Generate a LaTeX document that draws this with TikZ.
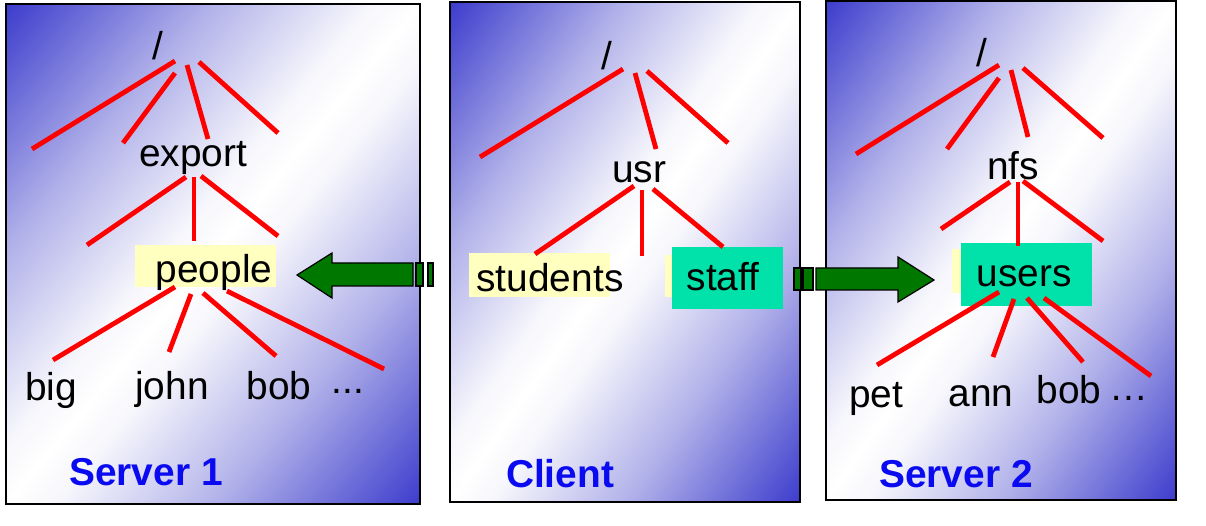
\documentclass[tikz,border=0pt]{standalone}
\usepackage{fontspec}
\setmainfont{Liberation Sans}
\definecolor{panelblue}{RGB}{60,60,205}
\definecolor{panelmid}{RGB}{178,178,234}
\definecolor{panellight}{RGB}{246,246,252}
\definecolor{hlyellow}{RGB}{255,255,192}
\definecolor{hlteal}{RGB}{0,226,170}
\definecolor{arrowgreen}{RGB}{0,120,0}
\definecolor{labelblue}{RGB}{10,10,240}
% blue on both long sides of the band, white along its middle line
\pgfdeclareverticalshading{panelshade}{100bp}{color(0bp)=(panelblue); color(25bp)=(panelblue); color(37.5bp)=(panelmid); color(47bp)=(panellight); color(50bp)=(white); color(53bp)=(panellight); color(62.5bp)=(panelmid); color(75bp)=(panelblue); color(100bp)=(panelblue)}
\tikzset{
  frame/.style={draw=black, line width=2bp},
  branch/.style={draw=red, line width=4.8bp},
  lbl/.style={anchor=base, inner sep=0pt, font=\fontsize{39}{47}\selectfont},
  title/.style={anchor=base, inner sep=0pt, font=\fontsize{39}{47}\selectfont\bfseries, text=labelblue},
  yellowbox/.style={fill=hlyellow},
  tealbox/.style={fill=hlteal},
  mountarrow/.style={fill=arrowgreen, draw=black, line width=1.2bp, line join=miter}
}
% #1,#2 = corners, #3 = centre, #4 = angle of the white diagonal,
% #5 = half length along it, #6 = distance from it to a corner
\newcommand{\panelbox}[6]{%
  \begin{scope}
    \clip #1 rectangle #2;
    \shade[shading=panelshade, transform canvas={shift={#3}, rotate=#4}]
      (-#5,-#6) rectangle (#5,#6);
  \end{scope}
  \draw[frame] #1 rectangle #2;
}
\begin{document}
\begin{tikzpicture}[x=1bp,y=-1bp]
\useasboundingbox[fill=white] (0,0) rectangle (1206,526);

% ---------- panels ----------
\panelbox{(6,4)}{(420,504)}{(213,254)}{50.37}{340}{318.9}
\panelbox{(450,2)}{(800,502)}{(625,252)}{55.0}{320}{286.7}
\panelbox{(826,1)}{(1176,500)}{(1001,250.5)}{54.96}{320}{286.6}

% ---------- highlight boxes ----------
\fill[yellowbox] (135,245) rectangle (276,287);
\fill[yellowbox] (469,253) rectangle (610,297);
\fill[yellowbox] (665,255) rectangle (680,297);
\fill[tealbox]   (672,247) rectangle (783,309);
\fill[yellowbox] (952,249) rectangle (965,293);
\fill[tealbox]   (961,243) rectangle (1092,306);

% ---------- Server 1 tree ----------
\draw[branch] (175,61) -- (32,149);
\draw[branch] (175,73) -- (123,143);
\draw[branch] (187,65) -- (208,139);
\draw[branch] (199,62) -- (278,133);
\draw[branch] (186,177) -- (87,245);
\draw[branch] (194,177) -- (194,241);
\draw[branch] (201,176) -- (278,236);
\draw[branch] (175,287) -- (53,360);
\draw[branch] (191,294) -- (169,352);
\draw[branch] (203,293) -- (276,356);
\draw[branch] (227,291) -- (384,369);

\node[lbl] (rootA) at (158,60) {/};
\node[lbl] (export) at (193,167) {export};
\node[lbl] (people) at (214,283) {people};
\node[lbl] (big) at (51,400) {big};
\node[lbl] (john) at (172,399) {john};
\node[lbl] (bobA) at (279,399) {bob};
\node[lbl] (moreA) at (348,393) {...};
\node[title] (serverA) at (146,485) {Server 1};

% ---------- Client tree ----------
\draw[branch] (623,69) -- (480,157);
\draw[branch] (635,73) -- (656,149);
\draw[branch] (647,71) -- (728,143);
\draw[branch] (634,186) -- (535,254);
\draw[branch] (642,190) -- (642,256);
\draw[branch] (653,189) -- (723,247);

\node[lbl] (rootC) at (607,70) {/};
\node[lbl] (usr) at (639,183) {usr};
\node[lbl] (students) at (550,292) {students};
\node[lbl] (staff) at (723,291) {staff};
\node[title] (client) at (560,487) {Client};

% ---------- Server 2 tree ----------
\draw[branch] (999,65) -- (856,154);
\draw[branch] (999,78) -- (947,149);
\draw[branch] (1011,70) -- (1028,137);
\draw[branch] (1023,68) -- (1103,138);
\draw[branch] (1010,182) -- (941,229);
\draw[branch] (1018,182) -- (1018,246);
\draw[branch] (1023,181) -- (1103,241);
\draw[branch] (999,292) -- (877,365);
\draw[branch] (1014,299) -- (993,357);
\draw[branch] (1027,298) -- (1083,362);
\draw[branch] (1044,298) -- (1151,376);

\node[lbl] (rootB) at (982,67) {/};
\node[lbl] (nfs) at (1013,180) {nfs};
\node[lbl] (users) at (1024,287) {users};
\node[lbl] (pet) at (876,407) {pet};
\node[lbl] (ann) at (981,406) {ann};
\node[lbl] (bobB) at (1069,403) {bob};
\node[lbl] (moreB) at (1129,400) {…};
\node[title] (serverB) at (956,487) {Server 2};

% ---------- mount arrows ----------
\draw[mountarrow] (297,275) -- (332,253) -- (332,263) -- (413,263) -- (413,286) -- (332,286) -- (332,298) -- cycle;
\draw[mountarrow] (416,263) rectangle (423,286);
\draw[mountarrow] (428,263) rectangle (433,286);

\draw[mountarrow] (794,268) rectangle (801,290);
\draw[mountarrow] (803,268) rectangle (813,290);
\draw[mountarrow] (816,268) -- (898,268) -- (898,257) -- (934,280) -- (898,302) -- (898,290) -- (816,290) -- cycle;
\end{tikzpicture}
\end{document}
